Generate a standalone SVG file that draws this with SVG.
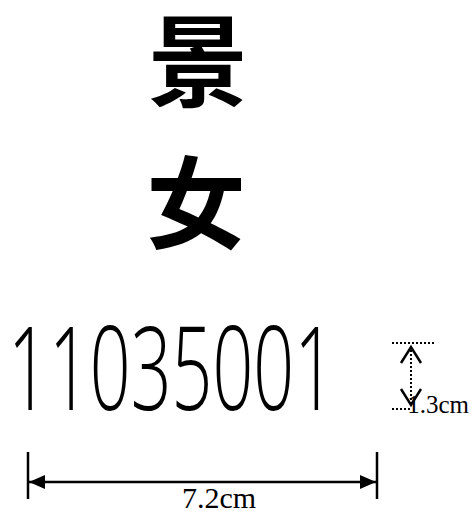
<svg xmlns="http://www.w3.org/2000/svg" width="472" height="511" viewBox="0 0 472 511">
<style>
.cjk{font-family:"Noto Sans CJK SC","Noto Sans CJK JP",sans-serif;font-weight:700;font-size:100px;fill:#000;text-anchor:middle}
.num{font-family:"Open Sans","Liberation Sans",sans-serif;font-weight:300;font-size:116px;fill:#000}
.lbl{font-family:"Liberation Serif",serif;fill:#000}
.dot{stroke:#000;stroke-width:2;stroke-dasharray:2 2;fill:none}
.dim{stroke:#000;stroke-width:2.5;fill:none}
</style>
<defs>
<marker id="fa" viewBox="0 0 16 14" refX="16" refY="7" markerWidth="16" markerHeight="14" markerUnits="userSpaceOnUse" orient="auto-start-reverse">
<path d="M0,0 L16,7 L0,14 Z" fill="#000"/>
</marker>
</defs>
<g id="char1"><text class="cjk" x="198" y="99">景</text></g>
<g id="char2"><text class="cjk" x="196" y="241">女</text></g>
<g id="number"><text class="num" x="8" y="410" textLength="327" lengthAdjust="spacingAndGlyphs">11035001</text></g>
<g id="connectors">
<line class="dot" x1="392" y1="343" x2="436" y2="343"/>
<line class="dot" x1="392" y1="409" x2="412" y2="409"/>
<line class="dot" x1="411" y1="346" x2="411" y2="406"/>
<polyline class="dim" points="401,363 411,347 421,363"/>
<polyline class="dim" points="401,389 411,405 421,389"/>
<line class="dim" x1="28" y1="452" x2="28" y2="499"/>
<line class="dim" x1="377" y1="452" x2="377" y2="499"/>
<line class="dim" x1="29" y1="482" x2="376" y2="482" marker-start="url(#fa)" marker-end="url(#fa)"/>
</g>
<g id="labels">
<text class="lbl" x="469" y="413" font-size="25" text-anchor="end">1.3cm</text>
<text class="lbl" x="219" y="508" font-size="30" text-anchor="middle">7.2cm</text>
</g>
</svg>
